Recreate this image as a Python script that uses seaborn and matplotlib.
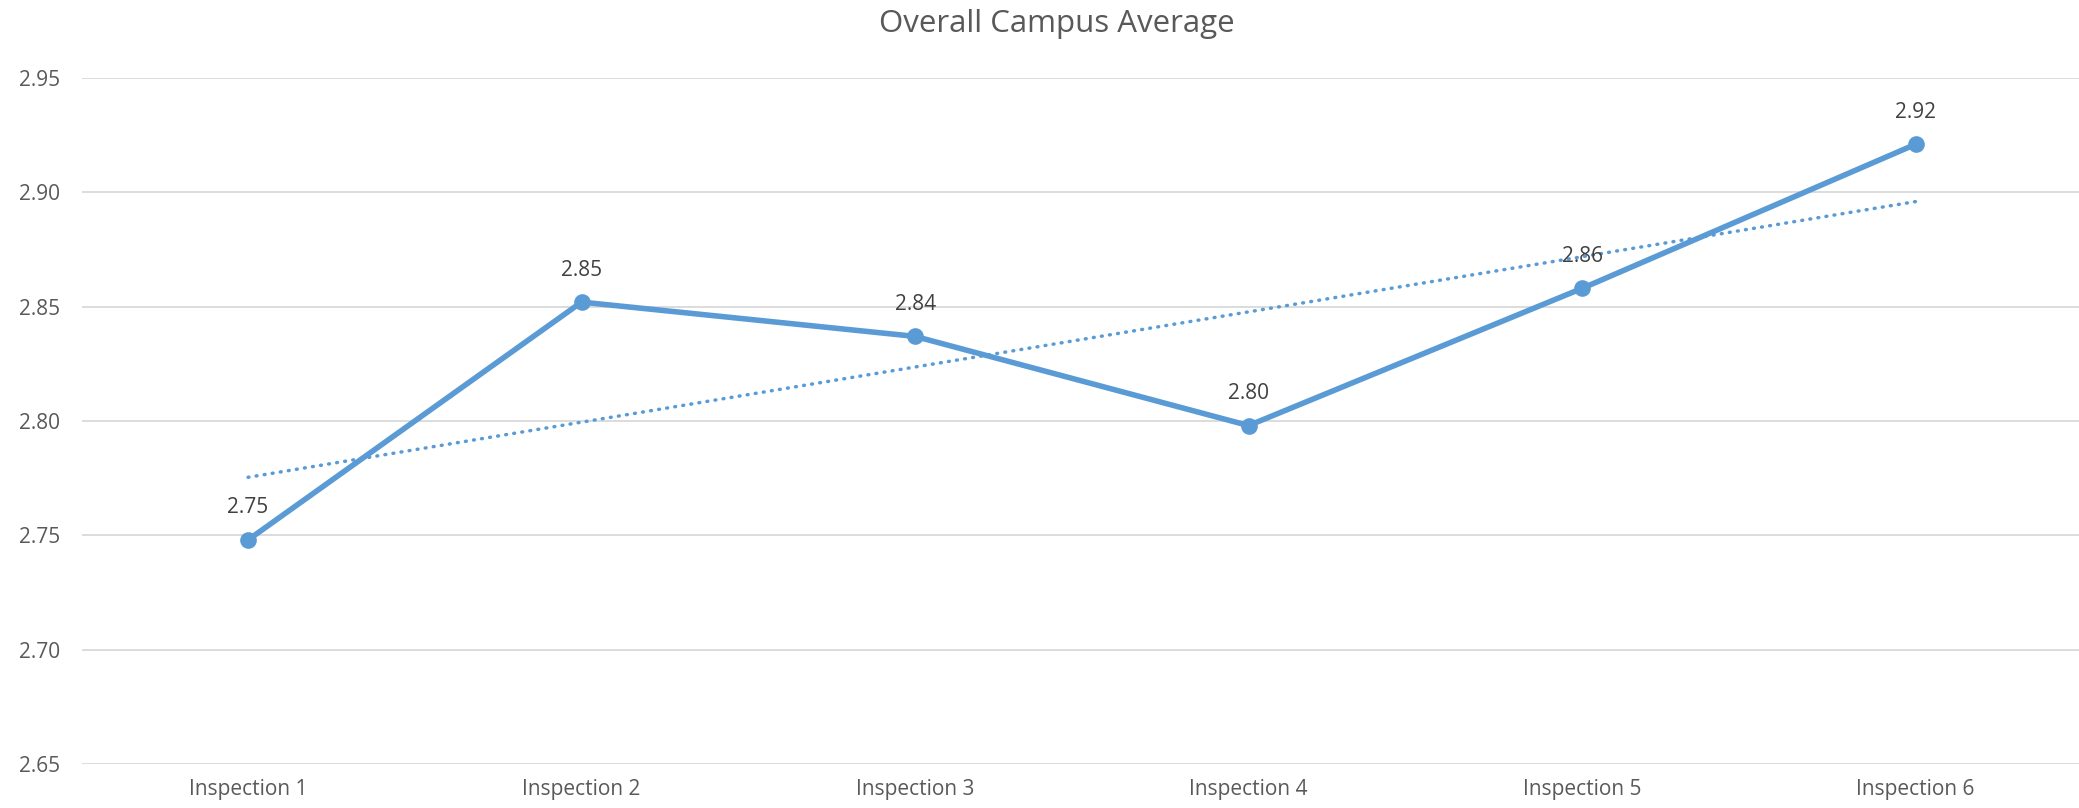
import numpy as np
import pandas as pd
import matplotlib
matplotlib.use("Agg")
import matplotlib.pyplot as plt
import seaborn as sns

# data
inspections = ["Inspection 1", "Inspection 2", "Inspection 3",
               "Inspection 4", "Inspection 5", "Inspection 6"]
averages = [2.748, 2.852, 2.837, 2.798, 2.858, 2.921]
y_ticks = [2.65, 2.70, 2.75, 2.80, 2.85, 2.90, 2.95]

blue = "#5B9BD5"
grey_text = "#595959"

sns.set_style("white")
plt.rcParams["font.family"] = ["Open Sans", "DejaVu Sans"]

df = pd.DataFrame({"inspection": inspections, "average": averages})
df["pos"] = np.arange(len(df))

fig = plt.figure(figsize=(20.79, 8.08), dpi=100)
ax = fig.add_axes([82 / 2079, 1 - 764 / 808, 1 - 82 / 2079, (764 - 78) / 808])

# gridlines
for t in y_ticks:
    ax.axhline(t, color="#D9D9D9", lw=1.3, zorder=0)

# linear trendline
slope, intercept = np.polyfit(df["pos"], df["average"], 1)
ax.plot(df["pos"], intercept + slope * df["pos"], color=blue, lw=2.5,
        linestyle=(0, (0.25, 2.1)), dash_capstyle="round", zorder=2)

sns.lineplot(data=df, x="pos", y="average", ax=ax, color=blue, lw=4.0,
             marker="o", markersize=12, markeredgewidth=0, zorder=3)

# data labels
for x, y in zip(df["pos"], df["average"]):
    ax.annotate(f"{y:.2f}", (x, y), xytext=(0, 23), textcoords="offset points",
                ha="center", va="center", fontsize=15, color="#404040")

ax.set_xlim(-0.498, 5.49)
ax.set_ylim(2.65, 2.95)
ax.set_yticks(y_ticks)
ax.set_yticklabels([f"{t:.2f}" for t in y_ticks])
ax.set_xticks(df["pos"])
ax.set_xticklabels(inspections)
ax.tick_params(axis="both", length=0, labelsize=15, labelcolor=grey_text)
ax.tick_params(axis="y", pad=16)
ax.tick_params(axis="x", pad=11)
ax.set_xlabel("")
ax.set_ylabel("")
for s in ax.spines.values():
    s.set_visible(False)

fig.text(1057 / 2079, 1 - 24 / 808, "Overall Campus Average", ha="center",
         va="center", fontsize=22.5, color=grey_text)

fig.savefig("out.png", dpi=100)
